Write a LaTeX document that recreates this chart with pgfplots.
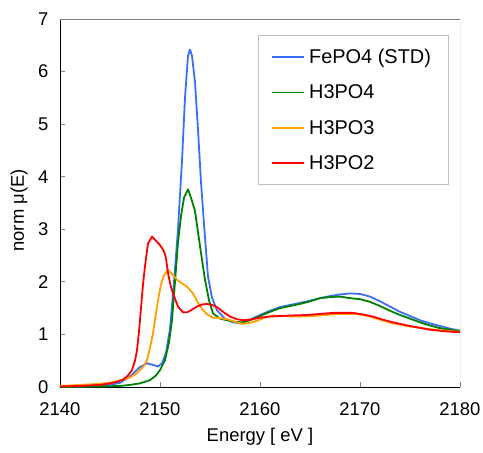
\documentclass[border=0pt]{standalone}
\usepackage{pgfplots}
\pgfplotsset{compat=1.18}
\usepackage{fontspec}
\setmainfont{Liberation Sans}
\definecolor{cBlue}{RGB}{60,110,245}
\definecolor{cGreen}{RGB}{0,128,0}
\definecolor{cOrange}{RGB}{255,160,0}
\definecolor{cRed}{RGB}{255,0,0}
\begin{document}
\begin{tikzpicture}
\begin{axis}[
  scale only axis,
  width=400bp, height=368bp,
  xmin=2140, xmax=2180, ymin=0, ymax=7,
  xtick={2140,2150,...,2180}, ytick={0,1,...,7},
  axis x line*=bottom, axis y line*=left,
  axis line style={black, line width=0.8bp, -},
  tick style={gray, line width=0.8bp},
  tick align=inside, major tick length=5bp,
  /pgf/number format/assume math mode=true,
  /pgf/number format/1000 sep={},
  ticklabel style={font=\fontsize{18.5}{20}\selectfont},
  xticklabel style={yshift=-12bp},
  yticklabel style={xshift=-8bp},
  xlabel={Energy [ eV ]}, ylabel={norm μ(E)},
  label style={font=\fontsize{18.5}{20}\selectfont},
  xlabel style={at={(axis description cs:0.5,0)}, anchor=north, yshift=-38bp},
  ylabel style={at={(axis description cs:-0.072,0.48)}, anchor=south},
  legend style={at={(rel axis cs:0.495,0.9565)}, anchor=north west,
    draw=black!25, line width=0.8bp, font=\fontsize{20}{22}\selectfont,
    inner xsep=13bp, inner ysep=3.5bp, row sep=0pt,
    nodes={inner ysep=10bp, inner xsep=4bp}},
  legend cell align=left,
  legend image code/.code={\draw[#1, line width=1.8bp] (0bp,0bp) -- (32bp,0bp);},
  every axis plot/.append style={line width=1.8bp, line join=round},
]
\addplot[cBlue] coordinates {
(2140,0.01)(2142,0.01)(2144,0.02)(2145,0.04)(2146,0.08)(2147,0.2)(2148,0.38)(2148.7,0.45)(2149.3,0.42)(2149.8,0.39)(2150.2,0.45)(2150.6,0.65)(2151,1.1)(2151.4,2.0)(2151.8,3.0)(2152.2,4.3)(2152.5,5.5)(2152.8,6.3)(2153,6.42)(2153.2,6.3)(2153.5,5.8)(2153.8,4.9)(2154.1,3.9)(2154.4,3.1)(2154.8,2.1)(2155.2,1.7)(2155.7,1.46)(2156.5,1.3)(2157.3,1.23)(2158,1.21)(2159,1.28)(2160,1.37)(2161,1.45)(2162,1.52)(2163,1.56)(2164,1.6)(2165,1.64)(2166,1.69)(2167,1.73)(2168,1.76)(2169,1.78)(2170,1.77)(2171,1.72)(2172,1.63)(2173,1.53)(2174,1.43)(2175,1.35)(2176,1.27)(2177,1.21)(2178,1.16)(2179,1.11)(2180,1.07)
};
\addlegendentry{FePO4 (STD)}
\addplot[cGreen] coordinates {
(2140,0)(2144,0.01)(2146,0.02)(2147,0.04)(2148,0.07)(2149,0.13)(2149.6,0.22)(2150,0.32)(2150.5,0.51)(2150.9,0.85)(2151.2,1.27)(2151.5,2.0)(2151.8,2.75)(2152.1,3.25)(2152.4,3.6)(2152.8,3.76)(2153.1,3.6)(2153.5,3.35)(2153.8,2.95)(2154.1,2.55)(2154.5,2.04)(2154.9,1.65)(2155.3,1.40)(2156,1.3)(2156.7,1.27)(2157.5,1.24)(2158.3,1.23)(2159,1.27)(2160,1.35)(2161,1.43)(2162,1.5)(2163,1.54)(2164,1.58)(2165,1.63)(2166,1.69)(2167,1.71)(2168,1.72)(2169,1.69)(2170,1.67)(2171,1.62)(2172,1.54)(2173,1.45)(2174,1.37)(2175,1.30)(2176,1.23)(2177,1.17)(2178,1.12)(2179,1.09)(2180,1.06)
};
\addlegendentry{H3PO4}
\addplot[cOrange] coordinates {
(2140,0.02)(2142,0.04)(2144,0.06)(2145,0.08)(2146,0.12)(2147,0.18)(2147.7,0.26)(2148.3,0.38)(2148.7,0.51)(2149,0.75)(2149.3,1.02)(2149.6,1.4)(2149.8,1.65)(2150.1,1.95)(2150.4,2.12)(2150.8,2.23)(2151.2,2.15)(2151.7,2.04)(2152.2,1.97)(2152.7,1.91)(2153.3,1.78)(2153.8,1.6)(2154.3,1.46)(2154.8,1.37)(2155.3,1.32)(2156,1.31)(2156.7,1.29)(2157.5,1.24)(2158.3,1.20)(2159,1.22)(2159.7,1.26)(2160.5,1.32)(2161.3,1.36)(2162.3,1.35)(2163.3,1.34)(2164.3,1.34)(2165.3,1.35)(2166.5,1.37)(2168,1.39)(2169.7,1.39)(2171,1.34)(2172,1.28)(2173.3,1.21)(2175,1.15)(2177,1.10)(2178.5,1.07)(2180,1.05)
};
\addlegendentry{H3PO3}
\addplot[cRed] coordinates {
(2140,0.01)(2142,0.02)(2144,0.04)(2145,0.07)(2145.7,0.1)(2146.3,0.14)(2146.8,0.22)(2147.2,0.32)(2147.5,0.5)(2147.7,0.70)(2147.9,1.05)(2148.1,1.5)(2148.3,1.95)(2148.5,2.3)(2148.8,2.73)(2149.2,2.86)(2149.6,2.78)(2150,2.70)(2150.4,2.58)(2150.6,2.45)(2150.8,2.16)(2151.1,1.9)(2151.3,1.78)(2151.8,1.53)(2152.3,1.42)(2152.7,1.42)(2153.1,1.46)(2153.7,1.53)(2154.2,1.57)(2154.7,1.58)(2155.2,1.56)(2155.7,1.52)(2156.3,1.43)(2157,1.34)(2157.7,1.29)(2158.3,1.27)(2159,1.28)(2160,1.32)(2161,1.34)(2162,1.35)(2163,1.36)(2164.7,1.37)(2166,1.39)(2167.3,1.41)(2169.3,1.41)(2170.3,1.38)(2171.3,1.34)(2172.3,1.28)(2173.3,1.23)(2175,1.16)(2177,1.09)(2178.5,1.06)(2180,1.04)
};
\addlegendentry{H3PO2}
\draw[gray, line width=0.8bp] (rel axis cs:0,1) -- (rel axis cs:1,1) -- (rel axis cs:1,0);
\end{axis}
\pgfresetboundingbox
\path (-60bp,-66bp) rectangle (423bp,387bp);
\end{tikzpicture}
\end{document}
